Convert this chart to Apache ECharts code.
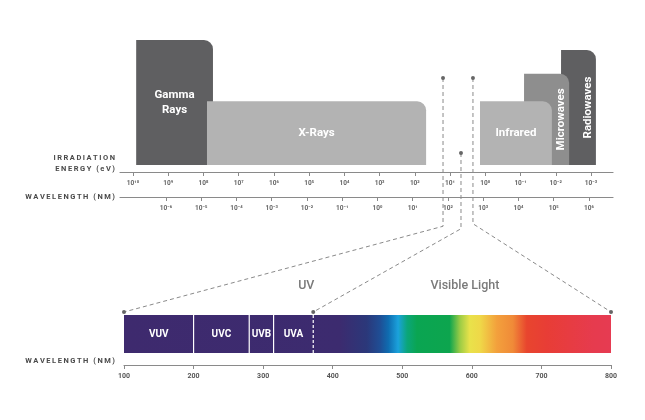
<!DOCTYPE html>
<html><head><meta charset="utf-8">
<script src="https://cdn.jsdelivr.net/npm/echarts@6/dist/echarts.min.js"></script>
<style>html,body{margin:0;padding:0;background:#fff}#c{width:645px;height:420px}</style>
</head><body><div id="c"></div>
<script>
// ---- data ----
const blockNames = ['Gamma Rays', 'X-Rays', 'Radiowaves', 'Microwaves', 'Infrared'];
const blockFrom = [9.91, 7.90, -2.15, -1.10, 0.15];     // log10(eV), left edge
const blockTo = [7.73, 1.68, -3.14, -2.38, -1.89];      // log10(eV), right edge
const blockHeight = [100, 51, 92, 73, 51];
const blockColors = ['#5f5f61', '#b3b3b3', '#5f5f61', '#8e8e8e', '#b3b3b3'];
const blockVertical = [false, false, true, true, false];

const energyTicks = [10, 9, 8, 7, 6, 5, 4, 3, 2, 1, 0, -1, -2, -3];
const wavelengthTicks = [-6, -5, -4, -3, -2, -1, 0, 1, 2, 3, 4, 5, 6];
const nmTicks = [100, 200, 300, 400, 500, 600, 700, 800];

const bandNames = ['VUV', 'UVC', 'UVB', 'UVA'];
const bandFrom = [100, 200, 280, 315];
const bandTo = [200, 280, 315, 372];

const spectrumNm = [100, 410, 449, 468, 480, 494, 507, 521, 568, 583, 597, 612, 636, 659, 679, 708, 774, 800];
const spectrumColors = ['#3e2a6e', '#3c2b6f', '#2b387a', '#1f4e95', '#0f6cb0', '#1ba2dc', '#0ba67a', '#0aa552',
  '#0da54e', '#9ccc45', '#e9e24a', '#efd848', '#f3a03c', '#f08a38', '#e8452e', '#e83d36', '#e63b4e', '#e63b52'];

const regionNames = ['UV', 'Visible Light'];
const regionNm = [362, 590];
const regionLevel = [1.76, 1.76];

const connectorEnergy = [1.20, 0.69, 0.35];
const connectorTop = [69.6, 9.6, 69.6];
const connectorKink = [-49, -51, -47];
const connectorNm = [100, 372, 800];

// ---- helpers ----
const SUP = {'0':'⁰','1':'¹','2':'²','3':'³','4':'⁴','5':'⁵','6':'⁶','7':'⁷','8':'⁸','9':'⁹','-':'⁻'};
const pow10 = v => '10' + String(Math.round(v)).split('').map(c => SUP[c]).join('');
const spaced = s => s.split('').join('\u2009');
const FONT = 'Roboto, "DejaVu Sans", sans-serif';
const axisGray = '#8a8a8a';

const chart = echarts.init(document.getElementById('c'), null, {renderer: 'canvas'});

function logAxis(grid, min, max, inverse, offset, ticks) {
  return {
    type: 'value', gridIndex: grid, position: 'bottom', offset: offset, inverse: inverse,
    min: min, max: max,
    axisLine: {show: true, onZero: false, lineStyle: {color: axisGray, width: 1.2}},
    axisTick: {show: true, customValues: ticks, length: 4, lineStyle: {color: axisGray, width: 1}},
    axisLabel: {show: true, customValues: ticks, formatter: pow10, fontSize: 6.5, fontWeight: 'bold',
      color: '#666', margin: 8, fontFamily: FONT},
    splitLine: {show: false}
  };
}

const option = {
  animation: false,
  backgroundColor: '#fff',
  grid: [
    {left: 120, right: 32, top: 40, bottom: 255},
    {left: 124, right: 34, top: 315, bottom: 67}
  ],
  xAxis: [
    logAxis(0, -3.625, 10.369, true, 7, energyTicks),
    logAxis(0, -7.305, 6.681, false, 32, wavelengthTicks),
    {
      type: 'value', gridIndex: 1, position: 'bottom', offset: 12, min: 100, max: 800, interval: 100,
      axisLine: {show: true, onZero: false, lineStyle: {color: axisGray, width: 1.2}},
      axisTick: {show: true, length: 4, lineStyle: {color: axisGray}},
      axisLabel: {fontSize: 7, fontWeight: 'bold', color: '#555', margin: 8, fontFamily: FONT},
      splitLine: {show: false}
    }
  ],
  yAxis: [
    {type: 'value', gridIndex: 0, min: 0, max: 100, show: false},
    {type: 'value', gridIndex: 1, min: 0, max: 1, show: false}
  ],
  series: [
    {
      type: 'custom', xAxisIndex: 0, yAxisIndex: 0, clip: false,
      data: blockNames.map((n, i) => [blockFrom[i], blockTo[i], blockHeight[i], i]),
      renderItem: function (params, api) {
        const i = api.value(3);
        const p0 = api.coord([api.value(0), api.value(2)]);
        const p1 = api.coord([api.value(1), 0]);
        const x = Math.min(p0[0], p1[0]), w = Math.abs(p1[0] - p0[0]);
        const y = p0[1], h = p1[1] - p0[1];
        const v = blockVertical[i];
        const name = blockNames[i];
        return {
          type: 'group', children: [
            {type: 'rect', shape: {x: x, y: y, width: w, height: h, r: [0, 9, 0, 0]}, style: {fill: blockColors[i]}},
            {type: 'text', x: v ? x + w - 8 : x + w / 2, y: y + h / 2, rotation: v ? Math.PI / 2 : 0,
              style: {text: v ? name : name.replace(' ', '\n'), fill: '#fff', font: 'bold 11.5px ' + FONT,
                align: 'center', verticalAlign: 'middle', lineHeight: 15}}
          ]
        };
      }
    },
    {
      type: 'custom', xAxisIndex: 2, yAxisIndex: 1, clip: false,
      data: [[spectrumNm[0], spectrumNm[spectrumNm.length - 1]]],
      renderItem: function (params, api) {
        const a = api.value(0), b = api.value(1);
        const p0 = api.coord([a, 1]);
        const p1 = api.coord([b, 0]);
        const stops = spectrumNm.map((nm, k) => ({offset: (nm - a) / (b - a), color: spectrumColors[k]}));
        return {type: 'rect', shape: {x: p0[0], y: p0[1], width: p1[0] - p0[0], height: p1[1] - p0[1]},
          style: {fill: new echarts.graphic.LinearGradient(0, 0, 1, 0, stops)}};
      }
    },
    {
      type: 'custom', xAxisIndex: 2, yAxisIndex: 1, clip: false,
      data: bandNames.map((n, i) => [bandFrom[i], bandTo[i], i]),
      renderItem: function (params, api) {
        const i = api.value(2);
        const p0 = api.coord([api.value(0), 1]);
        const p1 = api.coord([api.value(1), 0]);
        const ch = [{type: 'text', x: (p0[0] + p1[0]) / 2, y: (p0[1] + p1[1]) / 2,
          style: {text: bandNames[i], fill: '#fff', font: 'bold 10px ' + FONT, align: 'center', verticalAlign: 'middle'}}];
        if (i > 0) ch.push({type: 'line', shape: {x1: p0[0], y1: p0[1], x2: p0[0], y2: p1[1]},
          style: {stroke: '#fff', lineWidth: 1.2}});
        if (i === bandNames.length - 1) ch.push({type: 'line', shape: {x1: p1[0], y1: p0[1], x2: p1[0], y2: p1[1]},
          style: {stroke: '#fff', lineWidth: 1.2, lineDash: [3, 2]}});
        return {type: 'group', children: ch};
      }
    },
    {
      type: 'custom', xAxisIndex: 2, yAxisIndex: 1, clip: false,
      data: regionNames.map((n, i) => [regionNm[i], regionLevel[i], i]),
      renderItem: function (params, api) {
        const p = api.coord([api.value(0), api.value(1)]);
        return {type: 'text', x: p[0], y: p[1],
          style: {text: regionNames[api.value(2)], fill: '#7a7a7a', font: '500 12.5px ' + FONT,
            align: 'center', verticalAlign: 'middle'}};
      }
    }
  ]
};
chart.setOption(option);

// ---- connectors & side labels ----
const g = [];
const leftLabels = [['IRRADIATION', 158], ['ENERGY (eV)', 169], ['WAVELENGTH (NM)', 197], ['WAVELENGTH (NM)', 361]];
leftLabels.forEach(([t, y]) => g.push({type: 'text', x: 115, y: y,
  style: {text: spaced(t), align: 'right', verticalAlign: 'middle', font: 'bold 7.5px ' + FONT, fill: '#4a4a4a'}}));

connectorEnergy.forEach((e, i) => {
  const top = chart.convertToPixel({seriesIndex: 0}, [e, connectorTop[i]]);
  const kink = chart.convertToPixel({seriesIndex: 0}, [e, connectorKink[i]]);
  const end = chart.convertToPixel({seriesIndex: 1}, [connectorNm[i], 1]);
  end[1] -= 3;
  g.push({type: 'polyline', shape: {points: [top, kink, end]}, z: 10,
    style: {stroke: '#8a8a8a', lineWidth: 1, lineDash: [4, 3], fill: null}});
  g.push({type: 'circle', shape: {cx: top[0], cy: top[1], r: 2}, z: 11, style: {fill: '#666'}});
  g.push({type: 'circle', shape: {cx: end[0], cy: end[1], r: 2}, z: 11, style: {fill: '#666'}});
});
chart.setOption({graphic: g});
</script>
</body></html>
